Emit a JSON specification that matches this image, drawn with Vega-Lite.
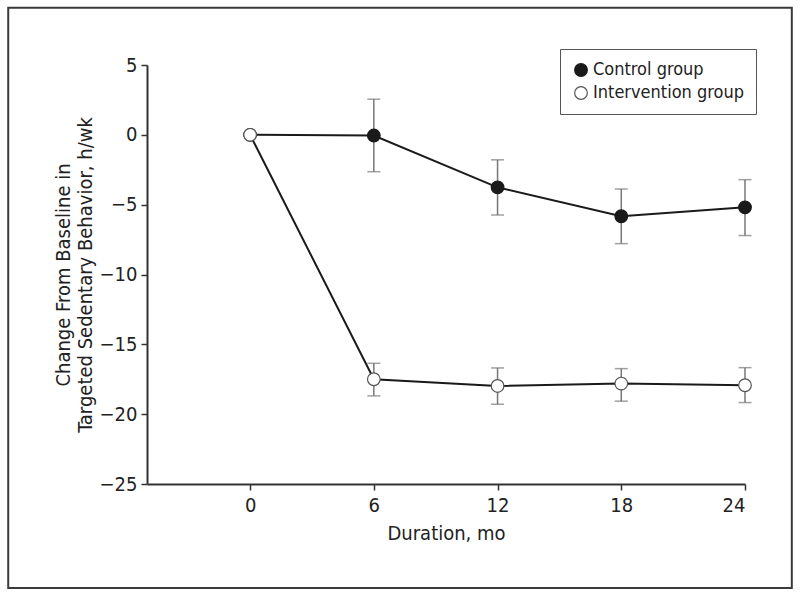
{
  "$schema": "https://vega.github.io/schema/vega-lite/v6.json",
  "width": 598,
  "height": 419,
  "autosize": "none",
  "padding": {"left": 147, "top": 65, "right": 55, "bottom": 112},
  "background": "white",
  "config": {
    "view": {"stroke": null},
    "font": "DejaVu Sans Condensed, Roboto",
    "axis": {
      "grid": false,
      "domainColor": "#333",
      "domainWidth": 2,
      "tickColor": "#333",
      "tickWidth": 1.5,
      "tickSize": 6,
      "labelFont": "DejaVu Sans Condensed, Roboto",
      "labelFontSize": 20,
      "labelColor": "#222",
      "titleFont": "DejaVu Sans Condensed, Roboto",
      "titleFontSize": 20,
      "titleFontWeight": "normal",
      "titleColor": "#222"
    },
    "legend": {
      "labelFont": "DejaVu Sans Condensed, Roboto"
    }
  },
  "datasets": {
    "pts": [
      {"month": 0, "group": "Control group", "mean": 0, "lo": null, "hi": null},
      {"month": 6, "group": "Control group", "mean": -0.05, "lo": -2.64, "hi": 2.55},
      {"month": 12, "group": "Control group", "mean": -3.76, "lo": -5.74, "hi": -1.79},
      {"month": 18, "group": "Control group", "mean": -5.83, "lo": -7.79, "hi": -3.88},
      {"month": 24, "group": "Control group", "mean": -5.19, "lo": -7.21, "hi": -3.21},
      {"month": 0, "group": "Intervention group", "mean": 0, "lo": null, "hi": null},
      {"month": 6, "group": "Intervention group", "mean": -17.5, "lo": -18.69, "hi": -16.36},
      {"month": 12, "group": "Intervention group", "mean": -17.98, "lo": -19.29, "hi": -16.69},
      {"month": 18, "group": "Intervention group", "mean": -17.81, "lo": -19.07, "hi": -16.74},
      {"month": 24, "group": "Intervention group", "mean": -17.93, "lo": -19.17, "hi": -16.67}
    ]
  },
  "layer": [
    {
      "data": {"values": [{}]},
      "mark": {"type": "rect", "fill": null, "stroke": "#3a3a3a", "strokeWidth": 2, "clip": false},
      "encoding": {
        "x": {"datum": -11.73, "type": "quantitative", "scale": {"domain": [-5, 24], "nice": false, "zero": false}, "axis": {"values": [0, 6, 12, 18, 24], "title": "Duration, mo", "labelPadding": 5, "titlePadding": 8}},
        "x2": {"datum": 26.27},
        "y": {"datum": 9.1, "type": "quantitative", "scale": {"domain": [-25, 5], "nice": false, "zero": false}, "axis": {"values": [-25, -20, -15, -10, -5, 0, 5], "title": ["Change From Baseline in", "Targeted Sedentary Behavior, h/wk"], "titleLineHeight": 22, "labelPadding": 4, "titlePadding": 4}},
        "y2": {"datum": -32.45}
      }
    },
    {
      "data": {"name": "pts"},
      "transform": [{"filter": "datum.lo != null"}],
      "mark": {"type": "rule", "color": "#777", "strokeWidth": 1.5},
      "encoding": {
        "x": {"field": "month", "type": "quantitative"},
        "y": {"field": "lo", "type": "quantitative"},
        "y2": {"field": "hi"}
      }
    },
    {
      "data": {"name": "pts"},
      "transform": [{"filter": "datum.lo != null"}, {"fold": ["lo", "hi"], "as": ["end", "val"]}],
      "mark": {"type": "tick", "orient": "horizontal", "color": "#777", "thickness": 1.5, "size": 13},
      "encoding": {
        "x": {"field": "month", "type": "quantitative"},
        "y": {"field": "val", "type": "quantitative"}
      }
    },
    {
      "data": {"name": "pts"},
      "mark": {"type": "line", "color": "#1a1a1a", "strokeWidth": 2},
      "encoding": {
        "x": {"field": "month", "type": "quantitative"},
        "y": {"field": "mean", "type": "quantitative"},
        "detail": {"field": "group"}
      }
    },
    {
      "data": {"name": "pts"},
      "mark": {"type": "point", "filled": true, "size": 160, "opacity": 1, "strokeWidth": 1.2},
      "encoding": {
        "x": {"field": "month", "type": "quantitative"},
        "y": {"field": "mean", "type": "quantitative"},
        "order": {"field": "group", "sort": "ascending"},
        "fill": {
          "field": "group",
          "type": "nominal",
          "scale": {"domain": ["Control group", "Intervention group"], "range": ["#1a1a1a", "#ffffff"]},
          "legend": {
            "title": null,
            "orient": "none",
            "legendX": 413,
            "legendY": -16,
            "strokeColor": "#555",
            "padding": 12,
            "labelFontSize": 18,
            "labelLimit": 400,
            "labelColor": "#222",
            "symbolSize": 160,
            "symbolStrokeColor": "#555",
            "symbolStrokeWidth": 1.2,
            "symbolType": "circle",
            "rowPadding": 5,
            "labelOffset": 3
          }
        },
        "stroke": {
          "field": "group",
          "type": "nominal",
          "scale": {"domain": ["Control group", "Intervention group"], "range": ["#1a1a1a", "#555555"]},
          "legend": null
        }
      }
    }
  ]
}
